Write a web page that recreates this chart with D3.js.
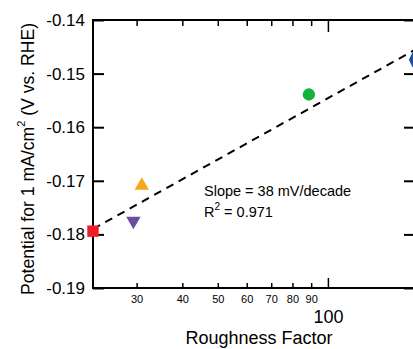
<!DOCTYPE html>
<html>
<head>
<meta charset="utf-8">
<script src="https://cdn.jsdelivr.net/npm/d3@7"></script>
<style>
  body { margin: 0; background: #fff; }
  svg { font-family: "Liberation Sans", Arial, Helvetica, sans-serif; }
</style>
</head>
<body>
<div id="chart"></div>
<script>
// samples: roughness factor vs potential at 1 mA/cm2
const roughness = [22.8, 29.4, 31.0, 88.7, 170.5];
const potential = [-0.1794, -0.1775, -0.1709, -0.1539, -0.1474];
const shapes = ["square", "triangleDown", "triangle", "circle", "diamond"];
const colors = ["#ee1c25", "#6b4ea1", "#f5a81c", "#12b33d", "#1f4fa0"];

// linear fit: V = a + slope * log10(R)
const fitSlope = 0.038;
const fitAt = [172.5, -0.1456];

const yTicks = [-0.19, -0.18, -0.17, -0.16, -0.15, -0.14];
const xMinorTicks = [30, 40, 50, 60, 70, 80, 90];
const xMajorTicks = [100];

const W = 413, H = 349;
const mLeft = 93, mRight = 415, mTop = 20, mBottom = 288;

const x = d3.scaleLog().domain([22.8, 173]).range([mLeft, mRight]);
const y = d3.scaleLinear().domain([-0.19, -0.14]).range([mBottom, mTop]);

const svg = d3.select("#chart").append("svg")
    .attr("width", W)
    .attr("height", H);

// frame
svg.append("rect")
    .attr("x", mLeft).attr("y", mTop)
    .attr("width", mRight - mLeft).attr("height", mBottom - mTop)
    .attr("fill", "none").attr("stroke", "#000").attr("stroke-width", 2);

// left axis
const yAxis = svg.append("g")
    .attr("transform", "translate(" + mLeft + ",0)")
    .call(d3.axisLeft(y).tickValues(yTicks).tickSize(-11).tickPadding(8)
        .tickFormat(d3.format(".2f")));
yAxis.select(".domain").remove();
yAxis.selectAll("line").attr("stroke-width", 2);
yAxis.selectAll("text").attr("font-size", 17).attr("fill", "#000")
    .text(d => d3.format(".2f")(d).replace("−", "-"));

// right axis ticks
const yAxisR = svg.append("g")
    .attr("transform", "translate(" + mRight + ",0)")
    .call(d3.axisRight(y).tickValues(yTicks).tickSize(-11).tickFormat(""));
yAxisR.select(".domain").remove();
yAxisR.selectAll("line").attr("stroke-width", 2);

// bottom axis: minor ticks
const xAxis = svg.append("g")
    .attr("transform", "translate(0," + mBottom + ")")
    .call(d3.axisBottom(x).tickValues(xMinorTicks).tickSize(-5).tickPadding(7)
        .tickFormat(d3.format("d")));
xAxis.select(".domain").remove();
xAxis.selectAll("line").attr("stroke-width", 1.5);
xAxis.selectAll("text").attr("font-size", 11).attr("fill", "#000");

// bottom axis: major tick
const xAxisMaj = svg.append("g")
    .attr("transform", "translate(0," + mBottom + ")")
    .call(d3.axisBottom(x).tickValues(xMajorTicks).tickSize(-10).tickPadding(22)
        .tickFormat(d3.format("d")));
xAxisMaj.select(".domain").remove();
xAxisMaj.selectAll("line").attr("stroke-width", 1.5);
xAxisMaj.selectAll("text").attr("font-size", 18).attr("fill", "#000");

// top axis ticks
const xTop = svg.append("g")
    .attr("transform", "translate(0," + mTop + ")")
    .call(d3.axisTop(x).tickValues(xMinorTicks).tickSize(-6).tickFormat(""));
xTop.select(".domain").remove();
xTop.selectAll("line").attr("stroke-width", 1.5);
const xTopMaj = svg.append("g")
    .attr("transform", "translate(0," + mTop + ")")
    .call(d3.axisTop(x).tickValues(xMajorTicks).tickSize(-12).tickFormat(""));
xTopMaj.select(".domain").remove();
xTopMaj.selectAll("line").attr("stroke-width", 1.5);

// fit line
const fit = r => fitAt[1] + fitSlope * (Math.log10(r) - Math.log10(fitAt[0]));
const fitX = x.domain();
svg.append("path")
    .attr("d", d3.line().x(d => x(d)).y(d => y(fit(d)))(fitX))
    .attr("fill", "none").attr("stroke", "#000")
    .attr("stroke-width", 2).attr("stroke-dasharray", "8,6");

// markers
const symbolType = {
  square: d3.symbolSquare,
  triangle: d3.symbolTriangle,
  triangleDown: d3.symbolTriangle,
  circle: d3.symbolCircle,
  diamond: d3.symbolDiamond
};
const symbolSize = { square: 130, triangle: 90, triangleDown: 90, circle: 120, diamond: 70 };

svg.append("g").selectAll("path")
    .data(roughness.map((r, i) => ({ r: r, v: potential[i], s: shapes[i], c: colors[i] })))
    .enter().append("path")
    .attr("d", d => d3.symbol().type(symbolType[d.s]).size(symbolSize[d.s])())
    .attr("transform", d => "translate(" + x(d.r) + "," + y(d.v) + ")" +
        (d.s === "triangleDown" ? " rotate(180)" : "") +
        (d.s === "diamond" ? " scale(0.85,1)" : ""))
    .attr("fill", d => d.c);

// annotation
const note = svg.append("g").attr("font-size", 14.5).attr("fill", "#000");
note.append("text").attr("x", 204).attr("y", 196).text("Slope = 38 mV/decade");
const r2 = note.append("text").attr("x", 204).attr("y", 217);
r2.append("tspan").text("R");
r2.append("tspan").attr("font-size", 10).attr("dy", -7).text("2");
r2.append("tspan").attr("dy", 7).text(" = 0.971");

// axis titles
svg.append("text")
    .attr("x", x(Math.sqrt(30 * 140))).attr("y", 344)
    .attr("text-anchor", "middle").attr("font-size", 18)
    .text("Roughness Factor");

const yl = svg.append("text")
    .attr("transform", "translate(34,159) rotate(-90)")
    .attr("text-anchor", "middle").attr("font-size", 17.6);
yl.append("tspan").text("Potential for 1 mA/cm");
yl.append("tspan").attr("font-size", 11).attr("dy", -9).text("2");
yl.append("tspan").attr("dy", 9).text(" (V vs. RHE)");
</script>
</body>
</html>
